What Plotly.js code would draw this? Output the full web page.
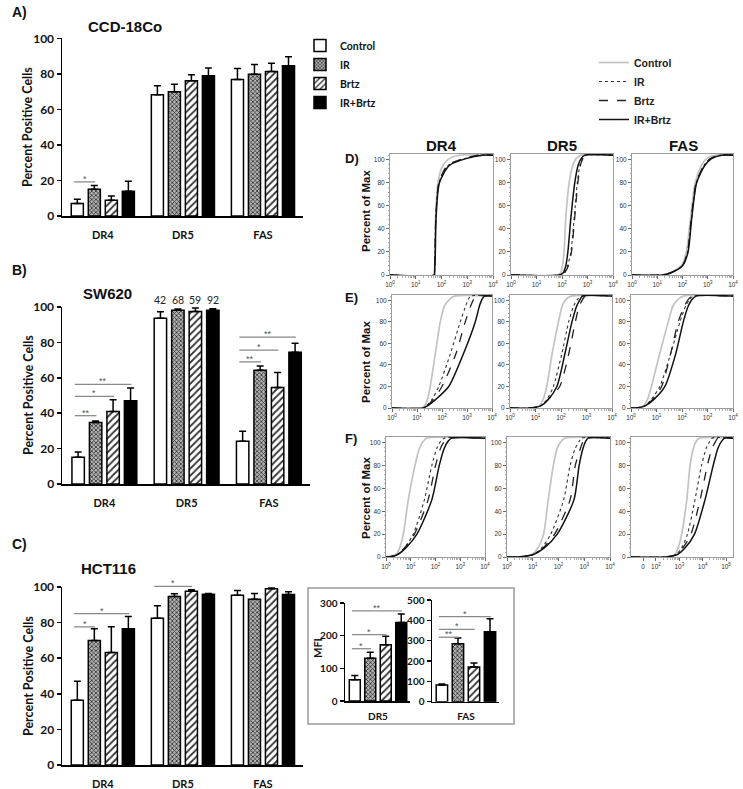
<!DOCTYPE html>
<html><head><meta charset="utf-8">
<script src="https://cdn.plot.ly/plotly-3.0.1.min.js"></script>
<style>html,body{margin:0;padding:0;background:#fff;}#chart{width:743px;height:789px;}</style>
</head><body><div id="chart"></div>
<script>
// ---------------- DATA ----------------
const groups = ['Control', 'IR', 'Brtz', 'IR+Brtz'];
const receptors = ['DR4', 'DR5', 'FAS'];

// Panel A: CCD-18Co, percent positive cells (rows: Control, IR, Brtz, IR+Brtz; cols: DR4, DR5, FAS)
const aMean = [[7.0, 68.2, 76.8], [15.0, 69.9, 79.8], [8.8, 76.1, 81.3], [13.9, 78.9, 84.5]];
const aErr  = [[2.4, 5.1, 6.2], [2.1, 4.2, 5.5], [2.5, 3.4, 4.7], [5.6, 4.4, 5.1]];
// Panel B: SW620
const bMean = [[15.1, 93.6, 24.2], [34.8, 98.1, 64.3], [41.0, 97.5, 54.5], [47.1, 98.2, 74.4]];
const bErr  = [[3.0, 3.7, 5.6], [0.8, 0.8, 2.3], [6.6, 1.9, 8.5], [7.1, 0.8, 5.1]];
const bDR5Labels = ['42', '68', '59', '92'];
// Panel C: HCT116
const cMean = [[36.4, 82.4, 95.3], [70.0, 94.6, 93.1], [63.2, 97.6, 99.0], [76.6, 95.9, 95.8]];
const cErr  = [[10.6, 7.0, 2.8], [6.5, 1.6, 3.3], [14.5, 0.8, 0.5], [6.8, 0.5, 1.5]];
// Inset: MFI (HCT116)
const mfiDR5Mean = [65, 131, 172, 240];
const mfiDR5Err  = [13, 18, 26, 26];
const mfiFASMean = [82, 285, 171, 344];
const mfiFASErr  = [5, 28, 19, 64];

// significance bars: [category index, from group, to group, y level, label]
const sigA = [[0, 0, 1, 19.2, '*']];
const sigB = [[0, 0, 1, 38.6, '**'], [0, 0, 2, 49.5, '*'], [0, 0, 3, 56.3, '**'],
              [2, 0, 1, 69.0, '**'], [2, 0, 2, 75.6, '*'], [2, 0, 3, 83.0, '**']];
const sigC = [[0, 0, 1, 77.6, '*'], [0, 0, 3, 85.0, '*'], [1, 0, 2, 100.4, '*']];
const sigMfiDR5 = [[0, 0, 1, 160, '*'], [0, 0, 2, 203, '*'], [0, 0, 3, 276, '**']];
const sigMfiFAS = [[0, 0, 1, 317, '**'], [0, 0, 2, 356, '*'], [0, 0, 3, 418, '*']];

// Flow cytometry cumulative curves (Percent of Max).
// Percent levels, and for each curve the log10 fluorescence at which that level is reached.
const flowLevels = [0, 2, 8, 20, 50, 80, 95, 101, 104];
const D_DR4 = [[1.72,1.73,1.74,1.75,1.77,1.86,2.05,2.30,2.70],[1.72,1.73,1.74,1.75,1.78,1.90,2.25,2.90,3.50],[1.72,1.73,1.74,1.75,1.78,1.90,2.22,2.85,3.45],[1.72,1.73,1.74,1.76,1.79,1.92,2.30,2.95,3.60]];
const D_DR5 = [[1.80,1.95,2.02,2.08,2.15,2.28,2.42,2.55,2.75],[1.90,2.10,2.22,2.35,2.48,2.60,2.70,2.80,2.95],[1.90,2.10,2.25,2.37,2.50,2.62,2.72,2.82,2.95],[1.90,2.05,2.15,2.23,2.35,2.50,2.63,2.75,2.90]];
const D_FAS = [[1.20,1.50,1.95,2.15,2.32,2.50,2.75,2.95,3.30],[1.20,1.55,2.00,2.20,2.36,2.55,2.85,3.10,3.50],[1.20,1.55,2.00,2.20,2.35,2.54,2.85,3.10,3.50],[1.20,1.55,2.00,2.22,2.37,2.56,2.88,3.15,3.55]];
const E_DR4 = [[1.15,1.30,1.42,1.53,1.73,1.93,2.10,2.30,2.50],[1.25,1.38,1.60,1.87,2.33,2.73,2.95,3.05,3.15],[1.25,1.40,1.65,2.00,2.55,2.93,3.15,3.27,3.40],[1.25,1.42,1.75,2.27,2.85,3.33,3.50,3.60,3.70]];
const E_DR5 = [[0.80,1.15,1.30,1.44,1.65,1.90,2.05,2.20,2.40],[0.80,1.20,1.45,1.70,2.03,2.30,2.50,2.65,2.80],[0.80,1.20,1.50,1.95,2.30,2.56,2.72,2.85,2.95],[0.80,1.20,1.50,1.84,2.15,2.43,2.62,2.75,2.85]];
const E_FAS = [[0.20,0.50,0.65,0.80,1.12,1.46,1.65,1.85,2.05],[0.20,0.55,0.80,1.13,1.55,1.92,2.15,2.30,2.45],[0.20,0.55,0.85,1.20,1.55,1.85,2.10,2.25,2.40],[0.20,0.55,0.90,1.33,1.75,2.05,2.25,2.40,2.55]];
const F_DR4 = [[0.05,0.40,0.55,0.70,0.90,1.17,1.35,1.50,1.65],[0.05,0.45,0.75,1.10,1.55,1.85,2.05,2.20,2.35],[0.05,0.45,0.75,1.15,1.70,2.00,2.20,2.35,2.50],[0.05,0.45,0.80,1.25,1.85,2.15,2.35,2.50,2.65]];
const F_DR5 = [[0.40,0.95,1.20,1.42,1.60,1.80,1.95,2.10,2.25],[0.40,1.00,1.35,1.70,2.20,2.45,2.65,2.80,2.90],[0.40,1.00,1.40,1.85,2.45,2.65,2.85,2.95,3.05],[0.40,1.00,1.45,1.95,2.60,2.80,2.95,3.05,3.15]];
const F_FAS = [[2.40,2.80,2.95,3.10,3.32,3.46,3.60,3.72,3.85],[2.40,2.85,3.10,3.35,3.67,3.95,4.15,4.30,4.40],[2.40,2.85,3.15,3.50,3.89,4.20,4.40,4.55,4.65],[2.40,2.90,3.25,3.65,4.10,4.45,4.65,4.80,4.95]];

const logTickVals = [1, 10, 100, 1000, 10000];
const logTickText = ['10<sup>0</sup>', '10<sup>1</sup>', '10<sup>2</sup>', '10<sup>3</sup>', '10<sup>4</sup>'];
const biexTickVals = [28, 100, 1000, 10000, 100000];
const biexTickText = ['0', '10<sup>2</sup>', '10<sup>3</sup>', '10<sup>4</sup>', '10<sup>5</sup>'];

// ---------------- LAYOUT HELPERS ----------------
const W = 743, H = 789;
const fx = p => p / W;
const fy = p => 1 - p / H;
const BARGAP = 0.15, BARGROUPGAP = 0.29;
const slot = (1 - BARGAP) / 4;
const off = g => (g - 1.5) * slot;

const LATO = 'Lato, "Open Sans", sans-serif';
const ARIAL = '"Liberation Sans", Arial, sans-serif';

const traces = [];
const layout = {
  width: W, height: H, margin: {l: 0, r: 0, t: 0, b: 0},
  paper_bgcolor: '#fff', plot_bgcolor: 'rgba(0,0,0,0)',
  barmode: 'group', bargap: BARGAP, bargroupgap: BARGROUPGAP,
  showlegend: true,
  legend: {x: fx(300), y: fy(31), xanchor: 'left', yanchor: 'top', bgcolor: 'rgba(0,0,0,0)',
           font: {family: LATO, size: 10.5, weight: 'bold', color: '#111'}, tracegroupgap: 0},
  legend2: {x: fx(594), y: fy(48), xanchor: 'left', yanchor: 'top', bgcolor: 'rgba(0,0,0,0)',
            font: {family: ARIAL, size: 10.5, weight: 'bold', color: '#222'}, tracegroupgap: 0},
  shapes: [], annotations: []
};

function barMarker(i) {
  const line = {color: '#000', width: 1.5};
  if (i === 0) return {color: '#fff', line};
  if (i === 1) return {color: '#999', line, pattern: {shape: 'x', fgcolor: '#2a2a2a', bgcolor: '#b4b4b4', size: 3, solidity: 0.45}};
  if (i === 2) return {color: '#fff', line, pattern: {shape: '/', fgcolor: '#333', bgcolor: '#fff', size: 5, solidity: 0.35}};
  return {color: '#000', line};
}

function addBars(n, cats, means, errs, showLegend) {
  groups.forEach((g, i) => {
    traces.push({
      type: 'bar', name: g, x: cats, y: means[i], xaxis: 'x' + n, yaxis: 'y' + n,
      marker: barMarker(i), showlegend: showLegend, legend: 'legend', hoverinfo: 'skip',
      error_y: {type: 'data', symmetric: false, array: errs[i], arrayminus: errs[i].map(() => 0),
                color: '#000', thickness: 1.5, width: 3.5}
    });
  });
}

function barAxes(n, xd, yd, xrange, yrange, dtick, tickSize, catSize, standoff) {
  layout['xaxis' + n] = {
    type: 'category', domain: [fx(xd[0]), fx(xd[1])], range: xrange, anchor: 'y' + n,
    showline: true, linecolor: '#000', linewidth: 1.5, ticks: '', showgrid: false, zeroline: false,
    tickfont: {family: LATO, size: catSize, weight: 'bold', color: '#111'}, ticklabelstandoff: standoff, fixedrange: true
  };
  layout['yaxis' + n] = {
    domain: [fy(yd[0]), fy(yd[1])], range: yrange, anchor: 'x' + n, dtick: dtick,
    showline: true, linecolor: '#000', linewidth: 1.5, ticks: 'outside', ticklen: 4, tickwidth: 1.5, tickcolor: '#000',
    showgrid: false, zeroline: false, tickfont: {family: LATO, size: tickSize, weight: 'bold', color: '#111'}, fixedrange: true
  };
}

// y value of an axis -> paper fraction (so markers just above the axis top are not clipped)
function yToPaper(n, v) {
  const a = layout['yaxis' + n];
  return a.domain[0] + (v - a.range[0]) / (a.range[1] - a.range[0]) * (a.domain[1] - a.domain[0]);
}

function addSig(n, sigs) {
  sigs.forEach(s => {
    const [c, a, b, y, lab] = s;
    const x0 = c + off(a) - 0.04, x1 = c + off(b) + 0.01;
    const yp = yToPaper(n, y);
    layout.shapes.push({type: 'line', xref: 'x' + n, yref: 'paper', x0, x1, y0: yp, y1: yp,
                        line: {color: '#8a8a8a', width: 1.3}});
    layout.annotations.push({xref: 'x' + n, yref: 'paper', x: (x0 + x1) / 2, y: yp, text: lab, showarrow: false,
                             yanchor: 'bottom', yshift: -4, font: {family: ARIAL, size: 9, color: '#555'}});
  });
}

function txt(text, x, y, size, opts) {
  layout.annotations.push(Object.assign({xref: 'paper', yref: 'paper', x: fx(x), y: fy(y), text, showarrow: false,
    xanchor: 'center', yanchor: 'middle', font: {family: ARIAL, size, weight: 'bold', color: '#111'}}, opts || {}));
}

// ---------------- BAR PANELS ----------------
addBars(1, receptors, aMean, aErr, true);
barAxes(1, [62, 303], [216, 38.3], [-0.51, 2.5], [0, 100], 20, 12, 11, 8);
addSig(1, sigA);

addBars(2, receptors, bMean, bErr, false);
barAxes(2, [62, 310], [484, 307], [-0.515, 2.5], [0, 100], 20, 12, 11, 8);
addSig(2, sigB);
bDR5Labels.forEach((t, i) => layout.annotations.push({xref: 'x2', yref: 'y2', x: 1 + off(i), y: 100, text: t,
  showarrow: false, yanchor: 'bottom', yshift: -1, font: {family: LATO, size: 10.5, color: '#222'}}));

addBars(3, receptors, cMean, cErr, false);
barAxes(3, [62, 303], [765, 587], [-0.51, 2.5], [0, 100], 20, 12, 11, 8);
addSig(3, sigC);

addBars(4, ['DR5'], mfiDR5Mean.map(v => [v]), mfiDR5Err.map(v => [v]), false);
barAxes(4, [345, 410], [701, 603], [-0.453, 0.439], [0, 300], 100, 10, 10, 5);
addSig(4, sigMfiDR5);

addBars(5, ['FAS'], mfiFASMean.map(v => [v]), mfiFASErr.map(v => [v]), false);
barAxes(5, [432, 499], [701.7, 600], [-0.45, 0.438], [0, 500], 100, 10, 10, 5);
addSig(5, sigMfiFAS);

// inset frame
layout.shapes.push({type: 'rect', xref: 'paper', yref: 'paper', x0: fx(308), x1: fx(514), y0: fy(724), y1: fy(588),
                    line: {color: '#9a9a9a', width: 1.5}});

// ---------------- FLOW PANELS ----------------
const flowSets = [[D_DR4, D_DR5, D_FAS], [E_DR4, E_DR5, E_FAS], [F_DR4, F_DR5, F_FAS]];
const rowsPx = [[154, 275], [295, 408], [437, 557]];
const colsPx = [[[390, 493], [511, 613], [632, 733]],
                [[392, 492], [510, 612], [631, 733]],
                [[386, 485], [507, 610], [631, 733]]];
const lineStyles = [
  {color: '#c3c3c3', width: 1.7, dash: 'solid'},
  {color: '#333', width: 1.1, dash: 'dot'},
  {color: '#222', width: 1.3, dash: 'dash'},
  {color: '#111', width: 1.5, dash: 'solid'}
];
const minorA = [], minorB = [];
for (let k = 0; k < 4; k++) for (let m = 2; m < 10; m++) minorA.push(m * Math.pow(10, k));
for (let k = 2; k < 5; k++) for (let m = 2; m < 10; m++) minorB.push(m * Math.pow(10, k));

let ax = 6;
flowSets.forEach((row, r) => {
  row.forEach((curves, c) => {
    const biex = (r === 2 && c === 2);
    const xr = biex ? [0.93, 5.3] : [0, 4];
    curves.forEach((lx, i) => {
      const xs = [Math.pow(10, xr[0])].concat(lx.map(v => Math.pow(10, v)), [Math.pow(10, xr[1])]);
      const ys = [0].concat(flowLevels, [flowLevels[flowLevels.length - 1]]);
      traces.push({type: 'scatter', mode: 'lines', name: groups[i], x: xs, y: ys,
        xaxis: 'x' + ax, yaxis: 'y' + ax, line: Object.assign({shape: 'spline', smoothing: 0.7}, lineStyles[i]),
        showlegend: (r === 0 && c === 0), legend: 'legend2', hoverinfo: 'skip'});
    });
    const cp = colsPx[r][c], rp = rowsPx[r];
    layout['xaxis' + ax] = {
      type: 'log', domain: [fx(cp[0]), fx(cp[1])], range: xr, anchor: 'y' + ax,
      showline: true, mirror: true, linecolor: '#9d9d9d', linewidth: 1, showgrid: false, zeroline: false,
      ticks: 'outside', ticklen: 3, tickcolor: '#444', tickwidth: 0.8,
      tickmode: 'array', tickvals: biex ? biexTickVals : logTickVals, ticktext: biex ? biexTickText : logTickText,
      tickfont: {family: ARIAL, size: 6.5, color: '#333'},
      minor: {ticks: 'outside', ticklen: 1.5, tickcolor: '#777', tickwidth: 0.6, tickmode: 'array', tickvals: biex ? minorB : minorA},
      fixedrange: true
    };
    layout['yaxis' + ax] = {
      domain: [fy(rp[1]), fy(rp[0])], range: [0, 105], anchor: 'x' + ax, dtick: 20,
      showline: true, mirror: true, linecolor: '#9d9d9d', linewidth: 1, showgrid: false, zeroline: false,
      ticks: 'outside', ticklen: 3, tickcolor: '#444', tickwidth: 0.8,
      tickfont: {family: ARIAL, size: 6.5, color: '#333'},
      minor: {ticks: 'outside', ticklen: 1.5, tickcolor: '#777', tickwidth: 0.6, dtick: 4},
      fixedrange: true
    };
    ax++;
  });
});

// ---------------- TEXT ----------------
txt('A)', 10, 12, 14, {xanchor: 'left'});
txt('B)', 10, 270, 14, {xanchor: 'left'});
txt('C)', 10, 544, 14, {xanchor: 'left'});
txt('CCD-18Co', 125, 27, 15);
txt('SW620', 107, 293, 15);
txt('HCT116', 109, 568, 15);
txt('Percent Positive Cells', 28, 127, 12.5, {textangle: -90, font: {family: LATO, size: 12.5, weight: 'bold', color: '#111'}});
txt('Percent Positive Cells', 28, 395, 12.5, {textangle: -90, font: {family: LATO, size: 12.5, weight: 'bold', color: '#111'}});
txt('Percent Positive Cells', 28, 676, 12.5, {textangle: -90, font: {family: LATO, size: 12.5, weight: 'bold', color: '#111'}});
txt('MFI', 317, 648, 11, {textangle: -90, font: {family: LATO, size: 11, weight: 'bold', color: '#111'}});
txt('DR4', 441.5, 145, 15);
txt('DR5', 562, 145, 15);
txt('FAS', 683, 145, 15);
txt('D)', 343, 158, 13, {xanchor: 'left'});
txt('E)', 343, 297, 13, {xanchor: 'left'});
txt('F)', 343, 438, 13, {xanchor: 'left'});
txt('Percent of Max', 366, 211, 11.5, {textangle: -90});
txt('Percent of Max', 366, 362, 11.5, {textangle: -90});
txt('Percent of Max', 366, 498, 11.5, {textangle: -90});

Plotly.newPlot('chart', traces, layout, {staticPlot: true, displayModeBar: false});
</script></body></html>
